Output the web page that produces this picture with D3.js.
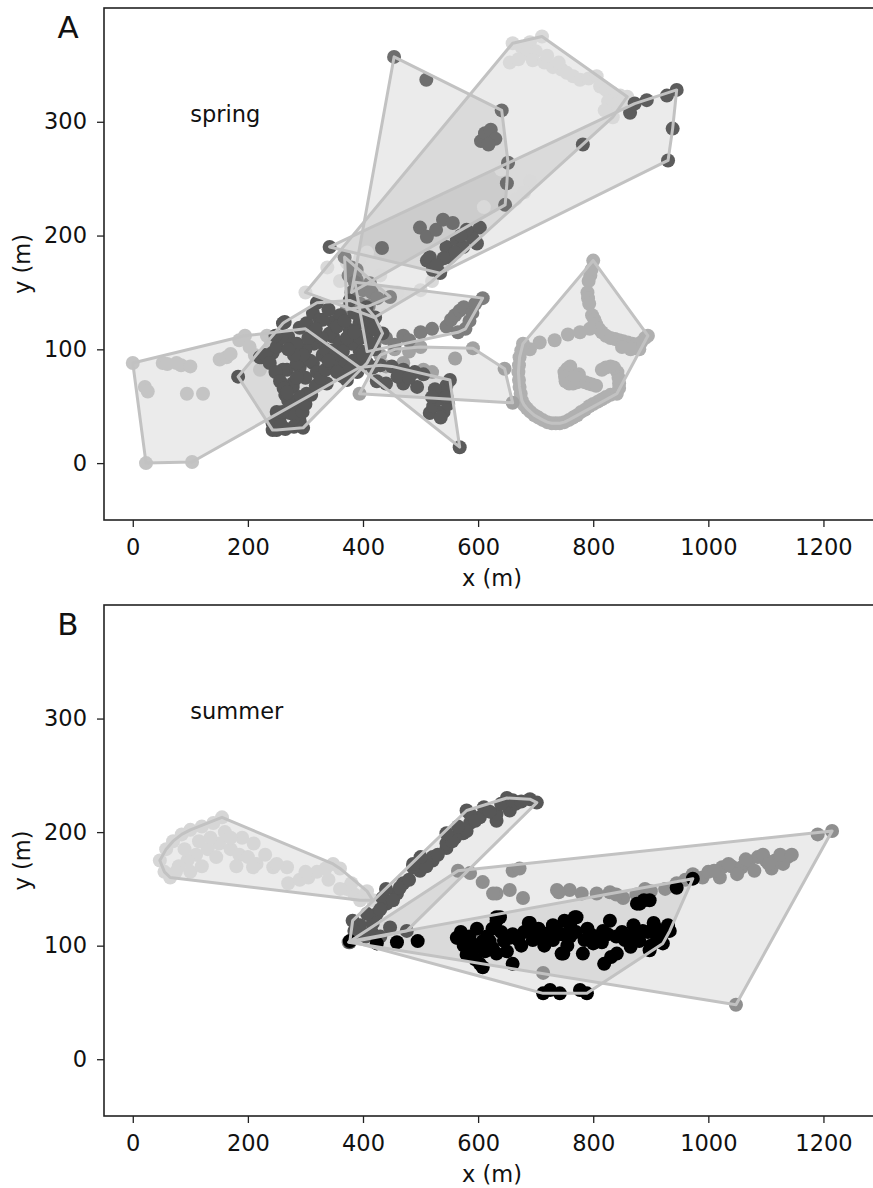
<!DOCTYPE html>
<html>
<head>
<meta charset="utf-8">
<script src="https://cdn.jsdelivr.net/npm/d3@7"></script>
<style>
  body { margin: 0; background: #fff; }
  svg { display: block; font-family: "DejaVu Sans", sans-serif; }
</style>
</head>
<body>
<svg id="chart" width="873" height="1188"></svg>
<script>
// ---- data (metres) ----
const xTicks = [0, 200, 400, 600, 800, 1000, 1200];
const yTicks = [0, 100, 200, 300];

// spring individuals
const springSilver = [[0,88],[21,67],[26,63],[94,61],[122,61],[52,88],[60,87],[76,88],[84,86],[100,85],[151,91],[163,93],[170,96],[185,108],[195,112],[203,102],[212,95],[221,82],[233,112],[240,105],[23,0],[103,1],[300,118],[394,84]];
const springPale = [[660,369],[675,366],[690,370],[711,375],[700,362],[685,360],[655,352],[670,355],[695,354],[715,352],[730,348],[745,346],[754,343],[765,340],[777,337],[792,338],[806,340],[812,331],[822,328],[834,325],[847,323],[859,322],[829,313],[834,304],[826,318],[840,315],[850,318],[820,310],[720,358],[740,352],[690,248],[680,238],[665,232],[640,258],[610,225],[407,185],[395,180],[372,176],[338,172],[360,160],[430,165],[460,150],[500,152],[539,172],[520,160],[300,150],[420,128]];
const springLoop = [[800,178],[797,170],[795,165],[792,160],[790,150],[791,145],[793,140],[798,130],[802,126],[805,122],[810,118],[815,115],[822,112],[830,110],[838,109],[845,108],[852,107],[860,106],[868,105],[875,104],[883,106],[890,110],[895,112],[880,100],[865,100],[850,102],[794,118],[777,115],[756,113],[733,108],[707,106],[690,100],[678,105],[675,99],[672,93],[671,86],[670,80],[671,73],[672,67],[674,61],[676,55],[680,51],[685,48],[691,45],[698,42],[705,40],[712,38],[720,36],[728,35],[735,35],[742,35],[750,36],[758,38],[765,40],[772,42],[779,45],[786,47],[793,50],[800,52],[808,54],[815,56],[822,58],[830,60],[841,61],[845,66],[845,70],[844,75],[842,80],[836,84],[830,85],[822,84],[815,82],[760,85],[755,83],[750,80],[751,76],[752,72],[758,70],[765,70],[772,71],[780,72],[786,71],[792,70],[798,69],[805,68],[775,78],[768,76]];
const springEast = [[394,61],[560,92],[591,101],[646,83],[660,53],[430,95],[455,100],[480,98],[500,102],[440,85],[470,88],[505,82],[520,80]];
const springMid = [[368,181],[447,146],[375,165],[389,170],[389,161],[412,158],[400,152],[415,150],[425,145],[380,172],[395,140],[380,145],[372,135],[410,138]];
const springFan = [[608,145],[545,120],[553,126],[560,130],[568,134],[575,137],[585,125],[578,118],[565,115],[386,159],[407,98],[420,105],[440,110],[470,112],[500,115],[520,118],[455,104],[480,108],[590,132],[595,140]];
const springNorth = [[454,357],[510,337],[641,310],[652,264],[650,246],[647,227],[605,283],[612,290],[622,293],[630,285],[618,280],[499,207],[511,199],[527,205],[539,214],[556,211],[433,189],[380,150]];
const springWedge = [[945,328],[928,323],[938,294],[930,266],[893,319],[864,308],[872,316],[782,280],[342,190],[511,178],[521,170],[534,167],[545,190],[563,196],[586,202],[603,207],[598,193],[574,190],[551,181],[516,181],[560,185],[590,198],[580,205],[570,200],[540,180],[528,174]];
const springSouth = [[568,14],[516,44],[522,50],[530,56],[538,62],[545,68],[551,73],[540,45],[548,52],[525,65],[505,78],[490,80],[470,82],[450,85],[430,86],[424,72],[440,70],[470,70],[494,67],[417,84],[394,84],[520,58],[535,40],[545,58],[460,76],[480,75]];
const springCore = [[183,76],[224,93],[243,97],[250,102],[264,124],[270,111],[290,119],[302,123],[320,141],[313,132],[325,126],[348,124],[337,70],[372,73],[268,82],[290,84],[313,88],[278,70],[302,61],[290,49],[273,44],[255,37],[243,29],[250,29],[290,37],[348,111],[360,106],[377,117],[394,123],[406,111],[417,128],[429,114],[394,99],[406,88],[383,90],[348,99],[377,84],[261,123],[330,126],[342,114],[377,143],[406,137],[421,128],[434,114],[400,111],[407,88],[372,84],[365,76],[221,93],[261,82],[285,88],[308,90],[278,67],[290,58],[273,47],[255,40],[243,35],[270,55],[260,45],[300,75],[320,80],[330,95],[315,105],[335,100],[360,90],[380,105],[395,110],[420,100],[360,130],[340,135],[300,100],[285,105],[265,60],[285,75],[250,45],[230,95],[238,88],[248,80],[256,72],[262,66],[268,62],[275,50],[282,42],[295,45],[300,52],[310,60],[318,68],[326,75],[335,82],[345,88],[352,95],[365,98],[372,110],[385,115],[395,128],[410,120],[415,105],[400,95],[390,80],[355,80],[340,90],[328,110],[318,118],[305,110],[295,95],[280,95],[270,100],[258,110],[248,112],[265,30],[258,33],[280,32],[296,31],[355,120],[368,125],[385,132],[420,118]];

const springGroups = [springPale, springSilver, springLoop, springEast, springMid, springFan, springNorth, springWedge, springSouth, springCore];
const springColors = ["#d9d9d9", "#c4c4c4", "#b0b0b0", "#a2a2a2", "#858585", "#7d7d7d", "#6e6e6e", "#5c5c5c", "#5a5a5a", "#575757"];

// summer individuals
const summerPale = [[47,175],[55,165],[58,185],[70,192],[85,198],[100,202],[120,205],[140,208],[155,213],[160,200],[150,190],[130,185],[110,180],[95,175],[80,170],[65,160],[75,165],[100,165],[120,170],[145,178],[170,185],[185,180],[200,178],[215,172],[180,170],[209,169],[244,169],[268,169],[270,155],[290,158],[305,160],[320,165],[335,168],[348,172],[360,168],[372,150],[385,145],[395,140],[407,148],[417,140],[300,165],[250,172],[230,180],[210,190],[190,195],[170,195],[135,195],[115,192],[90,185],[380,155],[360,150],[340,158]];
const summerBand = [[650,230],[690,229],[702,226],[655,219],[632,210],[603,213],[586,208],[574,199],[580,219],[545,186],[521,175],[499,166],[487,169],[470,155],[459,146],[441,137],[424,128],[417,120],[447,116],[476,113],[382,122],[407,128],[434,142],[464,151],[487,172],[521,178],[545,190],[580,201],[586,216],[632,216],[377,103],[395,110],[610,222],[665,225],[560,195],[430,132],[452,140],[480,158],[510,170],[530,180],[555,192],[595,210],[620,218],[640,225],[660,228],[675,227],[395,118],[405,108],[385,113],[415,112],[430,108],[440,150],[500,178],[565,205],[545,199]];
const summerGrey = [[375,103],[565,166],[586,164],[608,156],[632,146],[655,149],[678,142],[660,166],[672,168],[737,149],[759,149],[806,146],[829,147],[852,142],[875,145],[900,148],[925,150],[945,155],[973,163],[990,160],[1000,165],[1024,169],[1040,170],[1058,169],[1070,174],[1086,178],[1100,175],[1116,175],[1138,178],[1130,172],[1110,168],[1080,166],[1050,163],[1020,160],[1190,198],[1215,201],[1048,48],[713,76],[626,146],[740,147],[960,158],[1010,166],[1035,172],[1065,176],[1095,180],[1125,180],[1145,180],[1105,172],[780,146],[840,145],[890,150]];
const summerBlack = [[377,104],[424,102],[459,103],[495,104],[565,107],[586,104],[608,104],[632,122],[563,107],[608,81],[632,125],[655,107],[690,120],[713,107],[737,113],[748,93],[771,125],[782,93],[817,113],[829,122],[841,93],[864,104],[886,113],[881,137],[898,140],[911,107],[660,84],[632,93],[620,104],[603,84],[725,61],[713,58],[742,58],[777,61],[789,58],[973,159],[945,151],[876,137],[888,140],[933,113],[921,102],[898,96],[865,99],[831,90],[819,84],[768,125],[745,93],[688,120],[638,125],[700,110],[725,112],[760,108],[795,110],[850,112],[870,118],[905,120],[640,112],[675,100],[590,95],[575,100],[800,102],[760,118],[600,100],[615,108],[625,98],[645,104],[660,110],[670,105],[680,112],[695,105],[705,115],[715,100],[730,105],[745,110],[755,100],[770,112],[785,105],[790,115],[805,108],[815,103],[825,110],[840,108],[855,105],[870,110],[880,104],[895,112],[910,115],[920,110],[930,118],[900,100],[580,92],[595,88],[612,95],[650,95],[585,108],[570,112],[598,115],[625,115],[730,118],[750,122]];

const summerGroups = [summerPale, summerGrey, summerBand, summerBlack];
const summerColors = ["#d6d6d6", "#8f8f8f", "#575757", "#000000"];

// ---- layout ----
const svg = d3.select("#chart");
const x = d3.scaleLinear().domain([-50, 1300]).range([104, 881]);

const panels = [
  { letter: "A", season: "spring", top: 8, bottom: 520, groups: springGroups, colors: springColors },
  { letter: "B", season: "summer", top: 605, bottom: 1116, groups: summerGroups, colors: summerColors }
];

panels.forEach(p => {
  const y = d3.scaleLinear().domain([-50, 400]).range([p.bottom, p.top]);
  const g = svg.append("g");

  const hulls = p.groups.map(pts => d3.polygonHull(pts.map(d => [x(d[0]), y(d[1])])));

  // hull fills
  g.append("g").selectAll("path")
    .data(hulls)
    .join("path")
      .attr("d", h => "M" + h.join("L") + "Z")
      .attr("fill", "#808080")
      .attr("fill-opacity", 0.16)
      .attr("stroke", "none");

  // positions
  p.groups.forEach((pts, i) => {
    g.append("g").selectAll("circle")
      .data(pts)
      .join("circle")
        .attr("cx", d => x(d[0]))
        .attr("cy", d => y(d[1]))
        .attr("r", 7)
        .attr("fill", p.colors[i]);
  });

  // hull outlines
  g.append("g").selectAll("path")
    .data(hulls)
    .join("path")
      .attr("d", h => "M" + h.join("L") + "Z")
      .attr("fill", "none")
      .attr("stroke", "#c2c2c2")
      .attr("stroke-width", 3)
      .attr("stroke-linejoin", "round");

  // axes
  const xAxis = g.append("g")
    .attr("transform", `translate(0,${p.bottom})`)
    .call(d3.axisBottom(x).tickValues(xTicks).tickFormat(d3.format("d"))
      .tickSize(7).tickSizeOuter(0).tickPadding(12));
  const yAxis = g.append("g")
    .attr("transform", "translate(104,0)")
    .call(d3.axisLeft(y).tickValues(yTicks).tickFormat(d3.format("d"))
      .tickSize(7).tickSizeOuter(0).tickPadding(10));
  [xAxis, yAxis].forEach(a => {
    a.select(".domain").remove();
    a.selectAll("line").attr("stroke", "#222").attr("stroke-width", 1.3);
    a.selectAll("text").attr("fill", "#111").style("font-size", "22.5px").style("font-family", "DejaVu Sans");
  });

  // frame
  g.append("rect")
    .attr("x", 104).attr("y", p.top)
    .attr("width", 881 - 104).attr("height", p.bottom - p.top)
    .attr("fill", "none").attr("stroke", "#222").attr("stroke-width", 1.6);

  g.append("text")
    .attr("x", 492).attr("y", p.bottom + 66)
    .attr("text-anchor", "middle")
    .style("font-size", "22.5px").attr("fill", "#111")
    .text("x (m)");

  g.append("text")
    .attr("transform", `translate(30,${(p.top + p.bottom) / 2}) rotate(-90)`)
    .attr("text-anchor", "middle")
    .style("font-size", "22.5px").attr("fill", "#111")
    .text("y (m)");

  g.append("text")
    .attr("x", x(100)).attr("y", y(300))
    .style("font-size", "22.5px").attr("fill", "#111")
    .text(p.season);

  g.append("text")
    .attr("x", 68).attr("y", p.top + 30)
    .attr("text-anchor", "middle")
    .style("font-size", "31px").attr("fill", "#111")
    .text(p.letter);
});
</script>
</body>
</html>
